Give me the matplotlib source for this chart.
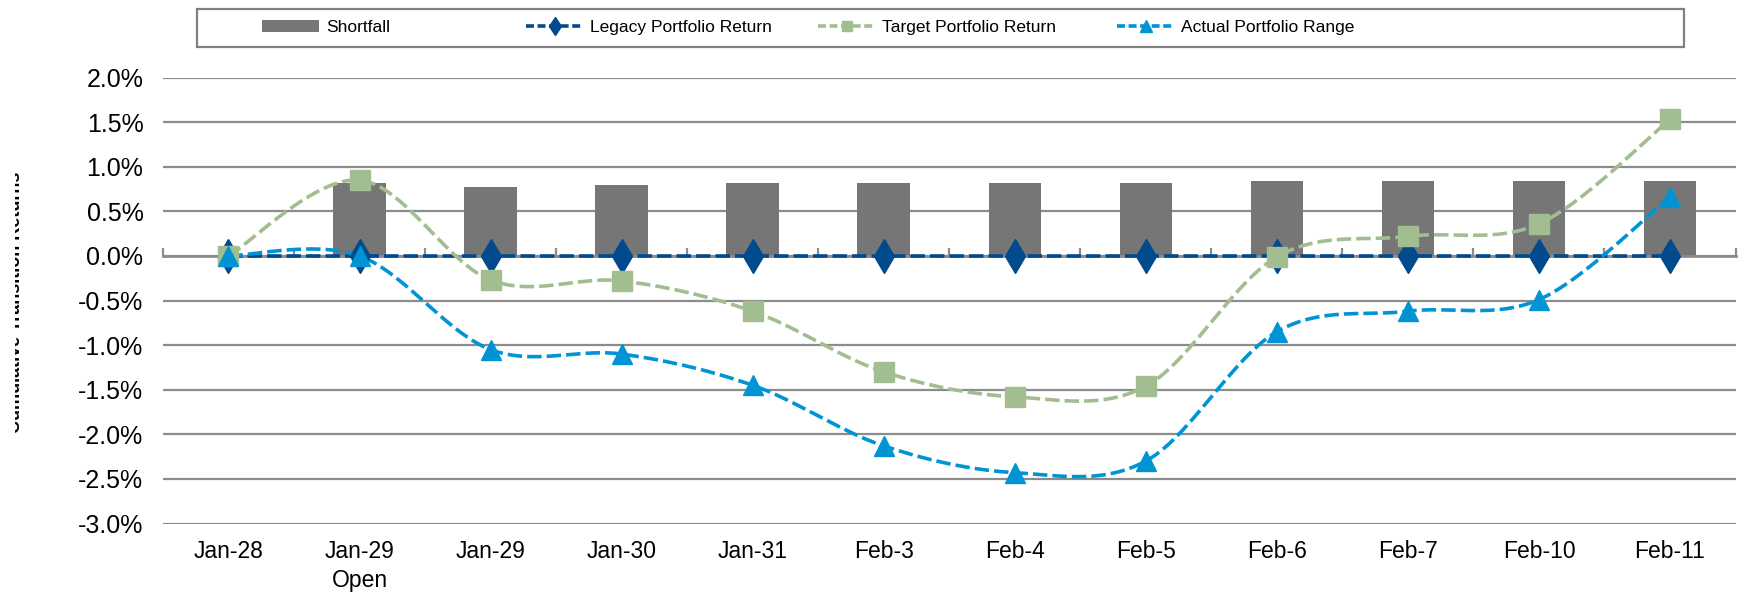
import matplotlib
matplotlib.use("Agg")
import matplotlib.pyplot as plt
import numpy as np
from matplotlib.patches import Rectangle

plt.rcParams['font.family'] = ['Liberation Sans', 'DejaVu Sans']

dates = ['Jan-28', 'Jan-29\nOpen', 'Jan-29', 'Jan-30', 'Jan-31', 'Feb-3',
         'Feb-4', 'Feb-5', 'Feb-6', 'Feb-7', 'Feb-10', 'Feb-11']
shortfall = [0.0, 0.82, 0.77, 0.80, 0.82, 0.82, 0.82, 0.82, 0.84, 0.84, 0.84, 0.84]
legacy = [0.0] * 12
target = [0.0, 0.85, -0.27, -0.28, -0.62, -1.30, -1.58, -1.46, -0.01, 0.22, 0.36, 1.53]
actual = [0.0, 0.0, -1.05, -1.10, -1.45, -2.13, -2.43, -2.30, -0.85, -0.62, -0.49, 0.66]

yticks = [2.0, 1.5, 1.0, 0.5, 0.0, -0.5, -1.0, -1.5, -2.0, -2.5, -3.0]

bar_color = '#767676'
legacy_color = '#004A8D'
target_color = '#A2BD90'
actual_color = '#0094D4'
grid_color = '#8C8C8C'


def smooth(xs, ys, n=30):
    # excel style smoothed line: cubic bezier, control points from neighbours / 6
    xs = np.asarray(xs, float)
    ys = np.asarray(ys, float)
    px = np.concatenate([[xs[0]], xs, [xs[-1]]])
    py = np.concatenate([[ys[0]], ys, [ys[-1]]])
    out_x, out_y = [], []
    t = np.linspace(0, 1, n)
    for i in range(1, len(px) - 2):
        x0, x1, x2, x3 = px[i - 1], px[i], px[i + 1], px[i + 2]
        y0, y1, y2, y3 = py[i - 1], py[i], py[i + 1], py[i + 2]
        c1x, c1y = x1 + (x2 - x0) / 6, y1 + (y2 - y0) / 6
        c2x, c2y = x2 - (x3 - x1) / 6, y2 - (y3 - y1) / 6
        bx = (1-t)**3*x1 + 3*(1-t)**2*t*c1x + 3*(1-t)*t**2*c2x + t**3*x2
        by = (1-t)**3*y1 + 3*(1-t)**2*t*c1y + 3*(1-t)*t**2*c2y + t**3*y2
        out_x.extend(bx)
        out_y.extend(by)
    return out_x, out_y


fig = plt.figure(figsize=(17.39, 5.92), dpi=100)
ax = fig.add_axes([0.0937, 0.1157, 0.9043, 0.7533])

x = np.arange(len(dates))

bars = ax.bar(x, shortfall, width=0.4, color=bar_color, zorder=2)
handles = [bars]
labels = ['Shortfall']

lw = 2.6
dash = (4.0, 1.4)
for vals, color, marker, ms, lab in [
        (legacy, legacy_color, 'd', 17, 'Legacy Portfolio Return'),
        (target, target_color, 's', 14, 'Target Portfolio Return'),
        (actual, actual_color, '^', 15, 'Actual Portfolio Range')]:
    sx, sy = smooth(x, vals)
    ax.plot(sx, sy, color=color, lw=lw, dashes=dash, zorder=4)
    ax.plot(x, vals, linestyle='none', marker=marker, markersize=ms,
            color=color, zorder=5)
    h, = ax.plot([], [], color=color, lw=lw, dashes=(2.2, 1.0), marker=marker,
                 markersize=ms * 0.55)
    handles.append(h)
    labels.append(lab)

ax.set_xlim(-0.5, len(dates) - 0.5)
ax.set_ylim(-3.0, 2.0)
ax.set_yticks(yticks)
ax.set_yticklabels(['{:.1f}%'.format(v) for v in yticks], fontsize=18)
ax.set_xticks(x)
ax.set_xticklabels(dates, fontsize=16.5, linespacing=1.35)
ax.tick_params(axis='both', length=0)
ax.tick_params(axis='y', pad=14)
ax.tick_params(axis='x', pad=12)

ax.grid(axis='y', color=grid_color, linewidth=1.6, zorder=1)
ax.set_axisbelow(True)
for s in ax.spines.values():
    s.set_visible(False)

# horizontal axis line sits at 0 with tick marks between categories
zero_axis = ax.secondary_xaxis(3.0 / 5.0)
zero_axis.set_xticks(np.arange(-0.5, len(dates), 1.0))
zero_axis.set_xticklabels([])
zero_axis.tick_params(length=6, width=1.6, color=grid_color, direction='out')
for s in zero_axis.spines.values():
    s.set_color(grid_color)
    s.set_linewidth(2)
zero_axis.set_zorder(3)

# legend inside a square frame, entries placed like the excel one
fig.patches.append(Rectangle((197 / 1739, 1 - 47 / 592), 1487 / 1739, 38 / 592,
                             transform=fig.transFigure, fill=False,
                             edgecolor='#7F7F7F', linewidth=1.6))
legend_x = [262, 526, 818, 1117]
for h, lab, lx in zip(handles, labels, legend_x):
    leg = fig.legend([h], [lab], loc='center left',
                     bbox_to_anchor=(lx / 1739, 0.953), frameon=False,
                     fontsize=12.5, handlelength=3.3, handletextpad=0.4,
                     borderpad=0, borderaxespad=0)

fig.text(24 / 1739, 0.49, 'Cumulative Transition Returns', rotation=90,
         ha='right', va='center', fontsize=13, fontweight='bold')
fig.patches.append(Rectangle((0, 0), 15 / 1739, 1, transform=fig.transFigure,
                             facecolor='white', edgecolor='none', zorder=10))

fig.savefig('out.png', dpi=100)
